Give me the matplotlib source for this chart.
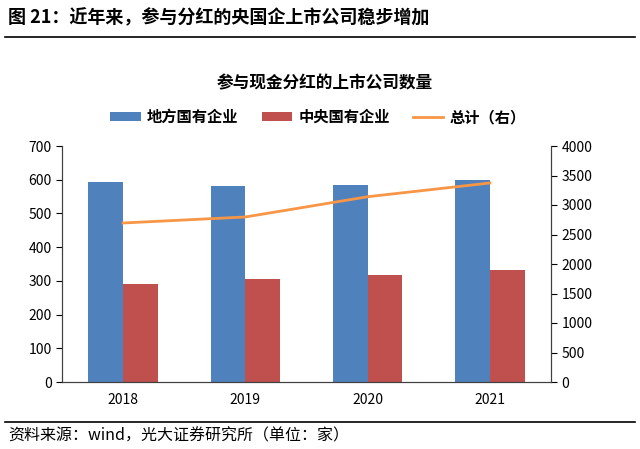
import matplotlib.pyplot as plt
import numpy as np

plt.rcParams['font.family'] = ['Noto Sans CJK SC', 'DejaVu Sans']

years = ['2018', '2019', '2020', '2021']
local_soe = [593, 582, 585, 599]
central_soe = [291, 306, 318, 332]
total = [2695, 2797, 3140, 3373]

fig = plt.figure(figsize=(6.4, 4.49), dpi=100)
ax = fig.add_axes([62/640, 1-382/449, 489/640, 236/449])
ax2 = ax.twinx()

x = np.arange(len(years))
w = 0.285
ax.bar(x - w/2, local_soe, width=w, color='#4f81bd', label='地方国有企业', zorder=2)
ax.bar(x + w/2, central_soe, width=w, color='#c0504d', label='中央国有企业', zorder=2)
ax2.plot(x, total, color='#f79646', lw=2, label='总计（右）', zorder=3)

ax.set_xlim(-0.5, 3.5)
ax.set_ylim(0, 700)
ax.set_yticks(range(0, 701, 100))
ax2.set_ylim(0, 4000)
ax2.set_yticks(range(0, 4001, 500))
ax.set_xticks(x)
ax.set_xticklabels(years)
ax.tick_params(axis='x', length=0, labelsize=10, pad=8)
ax.tick_params(axis='y', direction='out', length=4, labelsize=10)
ax2.tick_params(axis='y', direction='out', length=4, labelsize=10)
for a in (ax, ax2):
    a.spines['top'].set_visible(False)
    for s in a.spines.values():
        s.set_color('#404040')

# chart title and legend
fig.text(325/640, 1-83/449, '参与现金分红的上市公司数量', ha='center', va='center',
         fontsize=12, fontweight='bold')
h1, l1 = ax.get_legend_handles_labels()
h2, l2 = ax2.get_legend_handles_labels()
fig.legend(h1 + h2, l1 + l2, loc='center', bbox_to_anchor=(318/640, 1-117/449), ncol=3,
           frameon=False, prop={'weight': 'bold', 'size': 11},
           handlelength=2.0, handleheight=0.45, handletextpad=0.4, columnspacing=1.5)

# header and footer
fig.text(8/640, 1-18/449, '图 21：近年来，参与分红的央国企上市公司稳步增加', ha='left', va='center',
         fontsize=13, fontweight='bold')
fig.add_artist(plt.Line2D([5/640, 635/640], [1-37/449, 1-37/449], color='black', lw=1.2))
fig.add_artist(plt.Line2D([5/640, 635/640], [1-422/449, 1-422/449], color='black', lw=1.2))
fig.text(8/640, 1-436/449, '资料来源：wind，光大证券研究所（单位：家）', ha='left', va='center', fontsize=11.5)

fig.savefig('out.png', dpi=100)
